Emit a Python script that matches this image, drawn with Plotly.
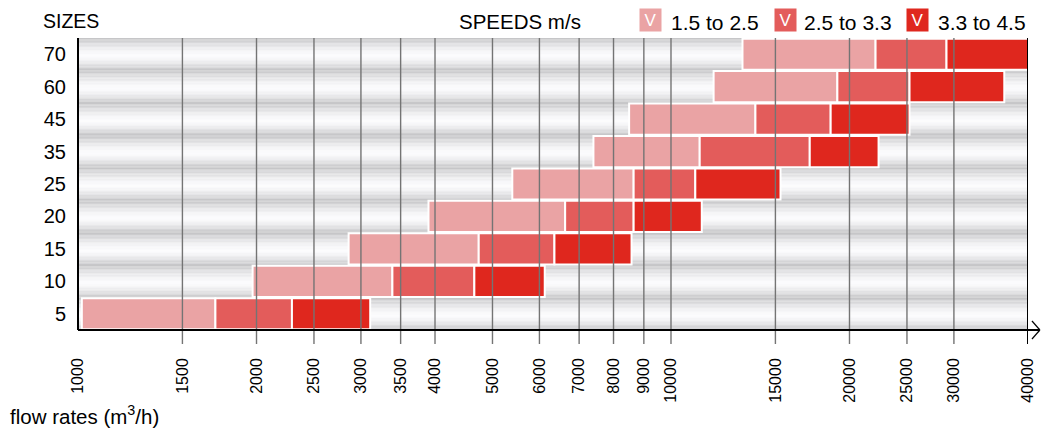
import plotly.graph_objects as go

# ---- data ----
sizes = ["5", "10", "15", "20", "25", "35", "45", "60", "70"]
flow_start = [1015, 1970, 2860, 3900, 5400, 7400, 8500, 11800, 13200]
end_low = [1705, 3390, 4740, 6630, 8650, 11180, 13880, 19080, 22130]    # 1.5 to 2.5 m/s
end_mid = [2295, 4660, 6360, 8650, 10990, 17140, 18590, 25250, 29150]   # 2.5 to 3.3 m/s
end_high = [3110, 6125, 8580, 11270, 15300, 22390, 25250, 36480, 40000]  # 3.3 to 4.5 m/s
speed_labels = ["1.5 to 2.5", "2.5 to 3.3", "3.3 to 4.5"]
speed_colors = ["#eaa3a4", "#e35c5b", "#df271e"]
tick_vals = [1000, 1500, 2000, 2500, 3000, 3500, 4000, 5000, 6000, 7000, 8000,
             9000, 10000, 15000, 20000, 25000, 30000, 40000]

FONT = "Liberation Sans, Arial, sans-serif"

# plot area in pixels
L, R, T, B = 78, 1034, 38, 330
W, H = R - L, B - T

fig = go.Figure()
segments = [(flow_start, end_low), (end_low, end_mid), (end_mid, end_high)]
for (s, e), name, col in zip(segments, speed_labels, speed_colors):
    fig.add_trace(go.Bar(
        orientation="h", y=sizes, base=s, x=[b - a for a, b in zip(s, e)],
        name=name, marker=dict(color=col, line=dict(color="white", width=2)),
        showlegend=False, hovertemplate="%{base} – %{x}<extra></extra>",
    ))

shapes = []
# gradient grey background stripes, one per row
n = 24
for i in range(len(sizes)):
    for k in range(n):
        t = (k + 0.5) / n
        d = abs(t - 0.55) / 0.55 if t < 0.55 else abs(t - 0.55) / 0.45
        g = int(round(251 - (251 - 195) * d ** 1.5))
        shapes.append(dict(type="rect", xref="x domain", yref="y",
                           x0=0, x1=1, y0=i + 0.5 - (k + 1) / n, y1=i + 0.5 - k / n,
                           fillcolor=f"rgb({g},{g},{g + 2})", line=dict(width=0),
                           layer="below"))
# vertical grid lines drawn over the bars, extending below the axis
for v in tick_vals[1:]:
    col = "black" if v == tick_vals[-1] else "#747474"
    wid = 2 if v == tick_vals[-1] else 1.4
    shapes.append(dict(type="line", xref="x", yref="paper", x0=v, x1=v,
                       y0=-14 / H, y1=1, line=dict(color=col, width=wid), layer="above"))
# axis lines and arrow
shapes.append(dict(type="line", xref="paper", yref="paper", x0=0, x1=0, y0=0, y1=1,
                   line=dict(color="black", width=2), layer="above"))
shapes.append(dict(type="line", xref="paper", yref="paper", x0=0, x1=(1046 - L) / W,
                   y0=0, y1=0, line=dict(color="black", width=2), layer="above"))
shapes.append(dict(type="line", xref="paper", yref="paper", x0=(1038 - L) / W,
                   x1=(1046 - L) / W, y0=9 / H, y1=0, line=dict(color="black", width=1.2)))
shapes.append(dict(type="line", xref="paper", yref="paper", x0=(1038 - L) / W,
                   x1=(1046 - L) / W, y0=-9 / H, y1=0, line=dict(color="black", width=1.2)))

def px(x):
    return (x - L) / W

def py(y):
    return (B - y) / H

def ann(text, x, y, size, xanchor="center", **kw):
    return dict(text=text, x=px(x), y=py(y), xref="paper", yref="paper",
                xanchor=xanchor, yanchor="middle", showarrow=False,
                font=dict(family=FONT, size=size, color=kw.pop("color", "black")), **kw)

annotations = [
    ann("SIZES", 71, 21, 19.5),
    ann("SPEEDS m/s", 523, 21, 20.5),
    ann("flow rates (m<sup>3</sup>/h)", 8, 415, 20.5, xanchor="left"),
]
box_x = [654, 790, 923]
text_x = [673, 807, 941]
for bx, tx, name, col in zip(box_x, text_x, speed_labels, speed_colors):
    annotations.append(ann("V", bx, 19.5, 17, color="white", bgcolor=col,
                           width=21, height=22, borderpad=0))
    annotations.append(ann(name, tx, 23, 21, xanchor="left"))

fig.update_layout(
    width=1048, height=430,
    margin=dict(l=L, r=1048 - R, t=T, b=430 - B),
    paper_bgcolor="white", plot_bgcolor="white",
    barmode="overlay", bargap=0.04,
    font=dict(family=FONT, color="black"),
    shapes=shapes, annotations=annotations,
    xaxis=dict(type="log", range=[3, 4.60206], tickvals=tick_vals,
               ticktext=[str(v) for v in tick_vals], tickangle=-90,
               showgrid=False, zeroline=False, showline=False, ticks="",
               ticklabelstandoff=24, tickfont=dict(family=FONT, size=16, color="black")),
    yaxis=dict(type="category", categoryorder="array", categoryarray=sizes,
               range=[-0.5, len(sizes) - 0.5], showgrid=False, zeroline=False,
               showline=False, ticks="", ticklabelstandoff=11,
               tickfont=dict(family=FONT, size=20, color="black")),
)

fig.write_html("out.html", config={"displayModeBar": False})
# remove the default page margin so the figure sits at the window's origin
with open("out.html", "r", encoding="utf-8") as f:
    html = f.read()
html = html.replace("<body>", '<body style="margin:0;padding:0;">', 1)
with open("out.html", "w", encoding="utf-8") as f:
    f.write(html)
